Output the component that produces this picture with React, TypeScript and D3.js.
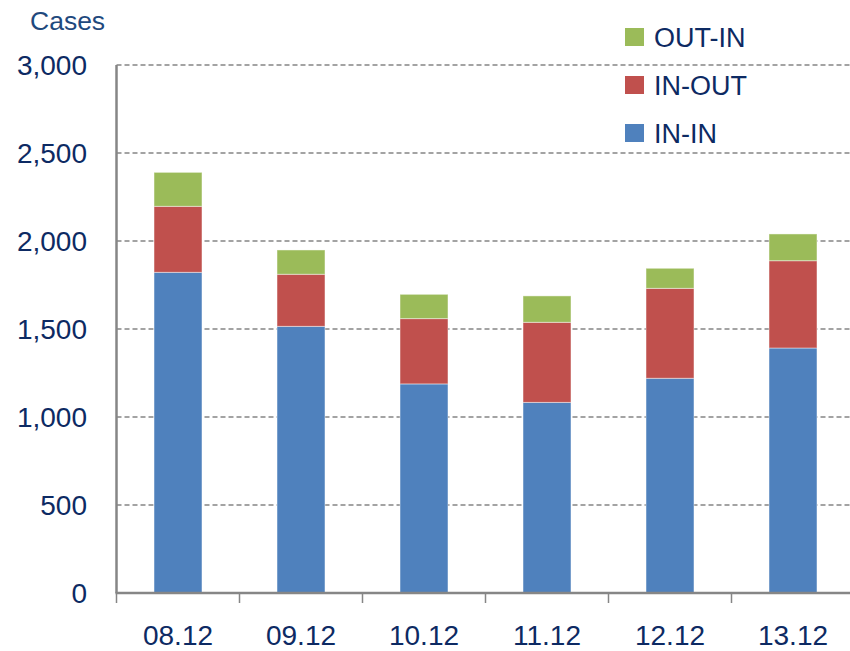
import * as d3 from "d3"

const categories = ["08.12", "09.12", "10.12", "11.12", "12.12", "13.12"]
const inIn = [1822, 1515, 1188, 1083, 1220, 1392]
const inOut = [375, 296, 371, 455, 511, 496]
const outIn = [193, 138, 138, 150, 114, 152]
const yTicks = [0, 500, 1000, 1500, 2000, 2500, 3000]

const seriesKeys = ["IN-IN", "IN-OUT", "OUT-IN"]
const seriesColors: Record<string, string> = {
  "IN-IN": "#4F81BD",
  "IN-OUT": "#C0504D",
  "OUT-IN": "#9BBB59",
}
const legendOrder = ["OUT-IN", "IN-OUT", "IN-IN"]

const W = 850
const H = 651
const left = 116.5
const top = 65
const bottom = 593

const font = "'Liberation Sans', Arial, sans-serif"
const textColor = "#0D2A63"

export default function App() {
  const rows = categories.map((c, i) => ({
    cat: c,
    "IN-IN": inIn[i],
    "IN-OUT": inOut[i],
    "OUT-IN": outIn[i],
  }))

  const stacked = d3.stack<(typeof rows)[number]>().keys(seriesKeys)(rows)

  const x = d3
    .scaleBand<string>()
    .domain(categories)
    .range([left, left + 6 * 123])
    .paddingInner(0.61)
    .paddingOuter(0.305)

  const y = d3.scaleLinear().domain([0, 3000]).range([bottom, top])

  const step = x.step()
  const tickXs = categories.map((_, i) => left + i * step)

  return (
    <svg
      width={W}
      height={H}
      viewBox={`0 0 ${W} ${H}`}
      style={{ position: "absolute", left: 0, top: 0, background: "#fff" }}
    >
      <text x={30} y={30} fontFamily={font} fontSize={26.5} fill="#1F497D">
        Cases
      </text>

      {/* gridlines */}
      {yTicks
        .filter((t) => t > 0)
        .map((t) => (
          <line
            key={t}
            x1={left}
            x2={W}
            y1={y(t)}
            y2={y(t)}
            stroke="#858585"
            strokeWidth={1.6}
            strokeDasharray="5,3"
          />
        ))}

      {/* bars */}
      {stacked.map((s) => (
        <g key={s.key} fill={seriesColors[s.key]}>
          {s.map((d) => (
            <rect
              key={d.data.cat}
              x={x(d.data.cat)}
              y={y(d[1])}
              width={x.bandwidth()}
              height={y(d[0]) - y(d[1])}
              stroke="#ffffff"
              strokeOpacity={0.45}
              strokeWidth={1}
            />
          ))}
        </g>
      ))}

      {/* axes */}
      <line x1={left} x2={left} y1={top} y2={bottom} stroke="#868686" strokeWidth={2.5} />
      <line x1={left - 1} x2={W} y1={bottom} y2={bottom} stroke="#868686" strokeWidth={2.5} />
      {tickXs.map((tx, i) => (
        <line key={i} x1={tx} x2={tx} y1={bottom} y2={bottom + 10} stroke="#868686" strokeWidth={1.5} />
      ))}

      {/* y tick labels */}
      {yTicks.map((t) => (
        <text
          key={t}
          x={87}
          y={y(t)}
          dy="0.36em"
          textAnchor="end"
          fontFamily={font}
          fontSize={28}
          fill={textColor}
        >
          {d3.format(",")(t)}
        </text>
      ))}

      {/* x labels */}
      {categories.map((c) => (
        <text
          key={c}
          x={(x(c) ?? 0) + x.bandwidth() / 2}
          y={645}
          textAnchor="middle"
          fontFamily={font}
          fontSize={28}
          fill={textColor}
        >
          {c}
        </text>
      ))}

      {/* legend */}
      {legendOrder.map((k, i) => (
        <g key={k} transform={`translate(625, ${28 + i * 48})`}>
          <rect width={19} height={18} fill={seriesColors[k]} />
          <text x={29} y={9} dy="0.36em" fontFamily={font} fontSize={27} fill={textColor}>
            {k}
          </text>
        </g>
      ))}
    </svg>
  )
}
